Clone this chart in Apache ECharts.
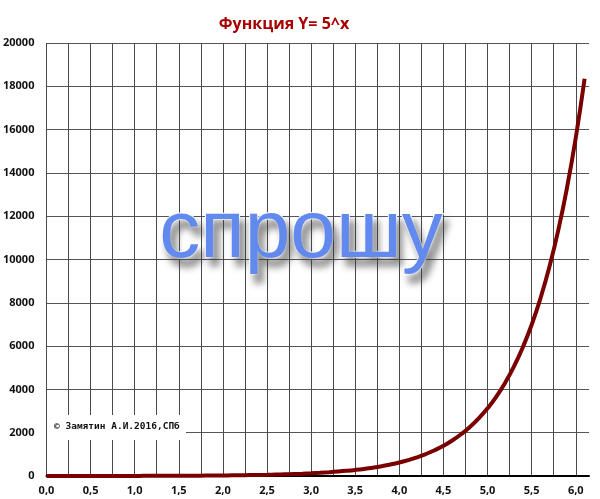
<!DOCTYPE html>
<html>
<head>
<meta charset="utf-8">
<script src="https://cdn.jsdelivr.net/npm/echarts@6/dist/echarts.min.js"></script>
<style>
html,body{margin:0;padding:0;background:#fff;}
#chart{width:600px;height:499px;}
</style>
</head>
<body>
<div id="chart"></div>
<script>
// Data (curve Y = 5^x)
var xValues = [0,0.1,0.2,0.3,0.4,0.5,0.6,0.7,0.8,0.9,1.0,1.1,1.2,1.3,1.4,1.5,1.6,1.7,1.8,1.9,2.0,2.1,2.2,2.3,2.4,2.5,2.6,2.7,2.8,2.9,3.0,3.1,3.2,3.3,3.4,3.5,3.6,3.7,3.8,3.9,4.0,4.1,4.2,4.3,4.4,4.5,4.6,4.7,4.8,4.9,5.0,5.1,5.2,5.3,5.4,5.5,5.6,5.7,5.8,5.9,6.0,6.1];
var yValues = [1,1.17,1.38,1.62,1.9,2.24,2.63,3.09,3.62,4.26,5,5.87,6.9,8.1,9.52,11.18,13.13,15.43,18.12,21.28,25,29.37,34.49,40.52,47.59,55.9,65.66,77.13,90.6,106.4,125,146.8,172.5,202.6,238,279.5,328.3,385.6,453,532.1,625,734.1,862.3,1012.9,1189.8,1397.5,1641.6,1928.2,2264.9,2660.4,3125,3670.7,4311.7,5064.6,5949,6987.7,8208,9641.1,11324.5,13302,15625,18353];
var yTicks = [0,2000,4000,6000,8000,10000,12000,14000,16000,18000,20000];
var xLabelStep = 0.5;
var titleText = 'Функция Y= 5^x';
var watermarkText = 'спрошу';
var copyrightText = '© Замятин А.И.2016,СПб';

var chart = echarts.init(document.getElementById('chart'));
var pts = xValues.map(function(x, i){ return [x, yValues[i]]; });

chart.setOption({
  animation: false,
  backgroundColor: '#fff',
  grid: {left: 46, right: 11, top: 43, bottom: 23, containLabel: false},
  xAxis: {
    type: 'value', min: 0, max: 6.15, interval: 0.25,
    axisLine: {show: true, onZero: true, lineStyle: {color: '#000', width: 2}},
    axisTick: {show: false},
    axisLabel: {
      margin: 9, color: '#111', fontWeight: 'bold', fontSize: 11, fontFamily: 'Open Sans',
      showMaxLabel: false,
      formatter: function(v){
        var k = Math.round(v * 100);
        if (k % Math.round(xLabelStep * 100) !== 0) return '';
        return (k / 100).toFixed(1).replace('.', ',');
      }
    },
    splitLine: {show: true, showMaxLine: false, lineStyle: {color: '#4a4a4a', width: 1}}
  },
  yAxis: {
    type: 'value', min: yTicks[0], max: yTicks[yTicks.length - 1], interval: yTicks[1] - yTicks[0],
    axisLine: {show: false},
    axisTick: {show: false},
    axisLabel: {margin: 12, color: '#111', fontWeight: 'bold', fontSize: 11, fontFamily: 'Open Sans',
      formatter: function(v){ return String(Math.round(v)); }},
    splitLine: {show: true, lineStyle: {color: '#555', width: 1}}
  },
  series: [{
    type: 'line',
    data: pts,
    showSymbol: false,
    smooth: true,
    lineStyle: {color: '#7a0000', width: 4},
    z: 3
  }],
  graphic: [
    {
      type: 'text', x: 284, y: 24, z: 10,
      style: {text: titleText, fill: '#a80000', font: 'bold 16px "Open Sans"', textAlign: 'center', textVerticalAlign: 'middle'}
    },
    {
      type: 'rect', z: 10,
      shape: {x: 47, y: 415, width: 139, height: 25},
      style: {fill: '#fff'}
    },
    {
      type: 'text', x: 54, y: 427, z: 11,
      style: {text: copyrightText, fill: '#111', font: 'bold 9.5px "DejaVu Sans Mono"', textAlign: 'left', textVerticalAlign: 'middle'}
    },
    {
      type: 'text', x: 301, y: 275, z: 12,
      style: {
        text: watermarkText, fill: '#628aee', font: '82px "Liberation Sans"',
        textAlign: 'center', textVerticalAlign: 'bottom',
        stroke: '#ffffff', lineWidth: 2,
        textShadowColor: 'rgba(60,60,60,0.55)', textShadowBlur: 7, textShadowOffsetX: 5, textShadowOffsetY: 8,
        shadowColor: 'rgba(60,60,60,0.55)', shadowBlur: 7, shadowOffsetX: 5, shadowOffsetY: 8
      }
    }
  ]
});
</script>
</body>
</html>
